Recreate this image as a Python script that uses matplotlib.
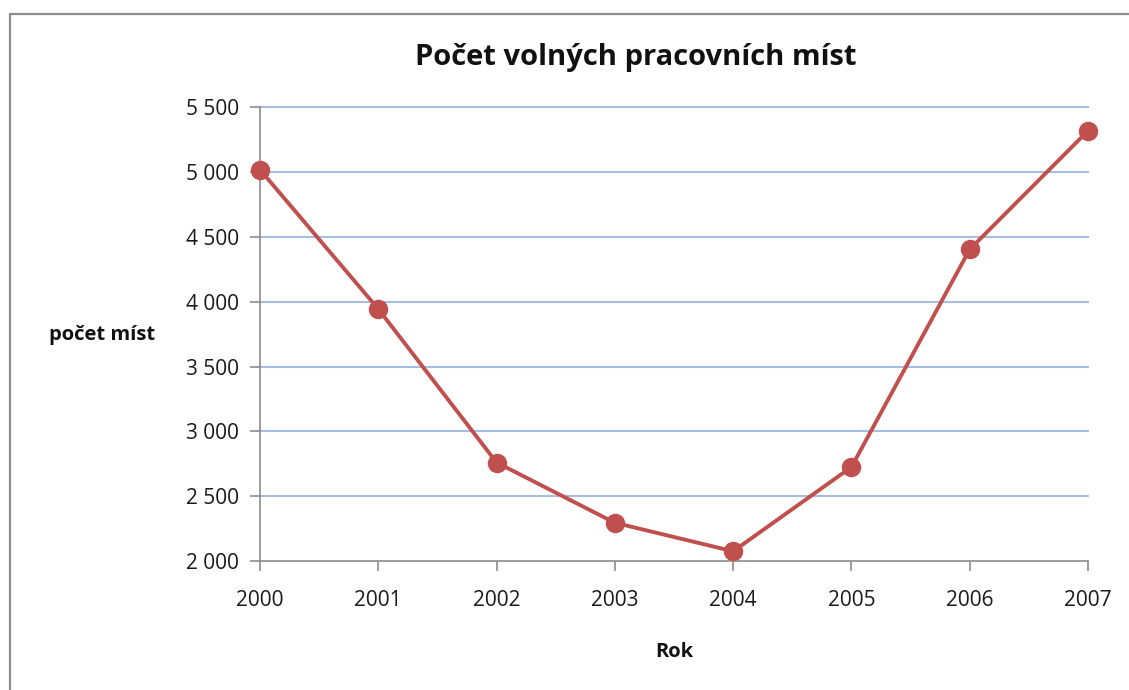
import matplotlib
matplotlib.use('Agg')
import matplotlib.pyplot as plt
from matplotlib.patches import Rectangle
from matplotlib.ticker import FuncFormatter

years = [2000, 2001, 2002, 2003, 2004, 2005, 2006, 2007]
jobs = [5020, 3945, 2760, 2295, 2075, 2725, 4405, 5320]
y_ticks = [2000, 2500, 3000, 3500, 4000, 4500, 5000, 5500]

plt.rcParams['font.family'] = ['Open Sans', 'DejaVu Sans']

W, H = 1129, 690
fig = plt.figure(figsize=(W / 100, H / 100), dpi=100)

# chart frame (runs off the right and bottom edge)
fig.patches.append(Rectangle((10 / W, -0.05), 1.2, 1 - 14 / H + 0.05,
                             transform=fig.transFigure, fill=False,
                             edgecolor='#8c8c8c', linewidth=1.6))

ax = fig.add_axes([260 / W, 1 - 561 / H, (1088 - 260) / W, (561 - 107.5) / H])

ax.plot(years, jobs, color='#c0504d', linewidth=2.8, marker='o',
        markersize=13, zorder=3, clip_on=False)

ax.set_xlim(years[0], years[-1])
ax.set_ylim(2000, 5500)
ax.set_xticks(years)
ax.set_yticks(y_ticks)
ax.yaxis.set_major_formatter(FuncFormatter(lambda v, p: f"{int(v):,}".replace(',', ' ')))

for v in y_ticks[1:]:
    ax.axhline(v, color='#a8bde4', linewidth=1.5, zorder=1, clip_on=False)

for s in ['top', 'right']:
    ax.spines[s].set_visible(False)
for s in ['left', 'bottom']:
    ax.spines[s].set_color('#8c8c8c')
    ax.spines[s].set_linewidth(1.2)

ax.tick_params(axis='both', colors='#8c8c8c', length=7, width=1.2,
               labelsize=15, labelcolor='#1a1a1a')
ax.tick_params(axis='x', pad=14)
ax.tick_params(axis='y', pad=8)

fig.text(636 / W, 1 - 58 / H, 'Počet volných pracovních míst', ha='center',
         va='center', fontsize=21, fontweight='bold', color='#111111')
fig.text(674 / W, 1 - 652 / H, 'Rok', ha='center', va='center',
         fontsize=14.5, fontweight='bold', color='#111111')
fig.text(102 / W, 1 - 335 / H, 'počet míst', ha='center', va='center',
         fontsize=14.5, fontweight='bold', color='#111111')

fig.savefig('out.png', dpi=100)
